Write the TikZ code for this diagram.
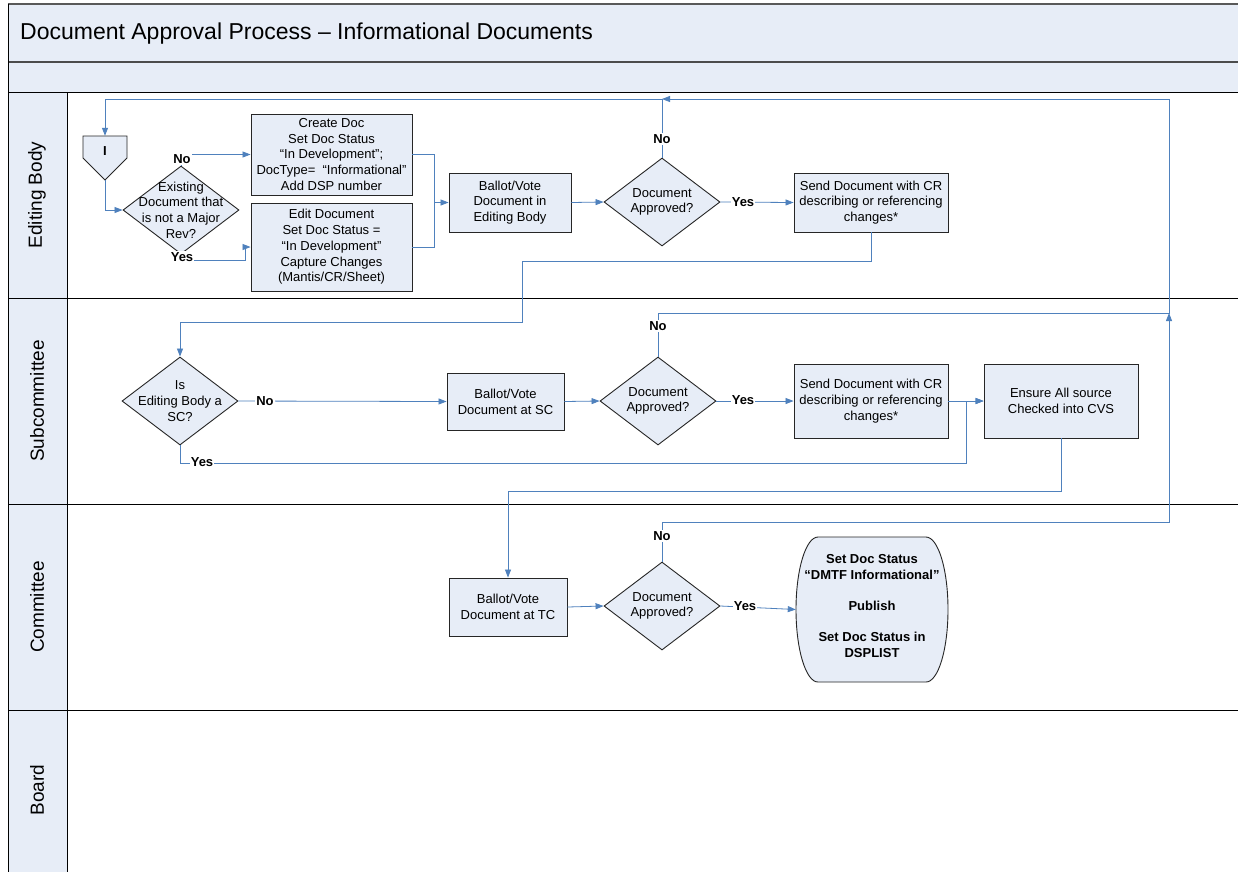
\documentclass[tikz,border=0pt]{standalone}
\usepackage{fontspec}
\setmainfont{Liberation Sans}
\usetikzlibrary{shapes.geometric,arrows.meta,calc}
\definecolor{lfill}{RGB}{231,237,247}
\definecolor{cblue}{RGB}{79,129,189}
\begin{document}
\begin{tikzpicture}[x=1pt,y=-1pt,
  box/.style={rectangle, draw=black!85, fill=lfill, line width=0.9pt, inner sep=0pt, align=center, font=\fontsize{13}{15.7}\selectfont},
  dec/.style={diamond, draw=black!85, fill=lfill, line width=0.9pt, inner sep=0pt, minimum width=116pt, minimum height=88pt},
  dtxt/.style={align=center, inner sep=0pt, font=\fontsize{13}{15.7}\selectfont},
  conn/.style={draw=cblue, line width=0.8pt},
  arr/.style={conn, -{Triangle[length=8pt,width=6pt]}},
  lbl/.style={fill=white, inner sep=1pt, font=\bfseries\fontsize{13}{15}\selectfont},
  lanetxt/.style={font=\fontsize{19}{22}\selectfont, rotate=90, inner sep=0pt},
  frameline/.style={draw=black, line width=1pt}]
\useasboundingbox (0,0) rectangle (1238,871);
\clip (0,0) rectangle (1238,871);
% background bands and lanes
\fill[white] (0,0) rectangle (1238,871);
\fill[lfill] (8,4) rectangle (1250,92);
\fill[lfill] (8,92) rectangle (67,880);
\draw[draw=black!65, line width=1.2pt] (8,4) -- (1250,4);
\draw[draw=black!70, line width=1.2pt] (8,62) -- (1250,62);
\draw[frameline] (8,92) -- (1250,92);
\draw[frameline] (8,298) -- (1250,298);
\draw[frameline] (8,504) -- (1250,504);
\draw[frameline] (8,710) -- (1250,710);
\draw[frameline] (8,4) -- (8,880);
\draw[frameline] (67,92) -- (67,880);
\node[anchor=west, inner sep=0pt, font=\fontsize{23}{26}\selectfont] (title) at (20,34) {Document Approval Process – Informational Documents};
\node[lanetxt] (laneEB) at (37,195) {Editing Body};
\node[lanetxt] (laneSC) at (37,401) {Subcommittee};
\node[lanetxt] (laneTC) at (37,607) {Committee};
\node[lanetxt] (laneBD) at (37,790) {Board};

% ---------- nodes ----------
% off-page reference
\node[minimum width=44pt, minimum height=44pt, inner sep=0pt] (offpg) at (105,158) {};
\draw[draw=black!85, fill=lfill, line width=0.9pt] (83,136) -- (127,136) -- (127,158) -- (105,180) -- (83,158) -- cycle;
\node[inner sep=0pt, font=\bfseries\fontsize{13}{15}\selectfont] (offpgtxt) at (105,151) {I};

\node[dec] (d1) at (181,210) {};
\node[dtxt] (d1t) at (d1) {Existing\\Document that\\is not a Major\\Rev?};
\node[box, minimum width=161pt, minimum height=81pt] (create) at (331.5,154.5) {Create Doc\\Set Doc Status\\“In Development”;\\DocType=\ \ “Informational”\\Add DSP number};
\node[box, minimum width=161pt, minimum height=88pt] (edit) at (331.5,247) {Edit Document\\Set Doc Status =\\“In Development”\\Capture Changes\\(Mantis/CR/Sheet)};
\node[box, minimum width=122pt, minimum height=59pt] (ballot1) at (510,202.5) {Ballot/Vote\\Document in\\Editing Body};
\node[dec] (dA1) at (662,202) {};
\node[dtxt] (dA1t) at (dA1) {Document\\Approved?};
\node[box, minimum width=154pt, minimum height=59pt] (send1) at (871,202.5) {Send Document with CR\\describing or referencing\\changes*};

\node[dec] (dSC) at (180,401) {};
\node[dtxt] (dSCt) at (dSC) {Is\\Editing Body a\\SC?};
\node[box, minimum width=117pt, minimum height=57pt] (ballot2) at (505.5,401.5) {Ballot/Vote\\Document at SC};
\node[dec] (dA2) at (658,401) {};
\node[dtxt] (dA2t) at (dA2) {Document\\Approved?};
\node[box, minimum width=154pt, minimum height=74pt] (send2) at (871,401) {Send Document with CR\\describing or referencing\\changes*};
\node[box, minimum width=154pt, minimum height=74pt] (ensure) at (1061,401) {Ensure All source\\Checked into CVS};

\node[box, minimum width=118pt, minimum height=58pt] (ballot3) at (508,607) {Ballot/Vote\\Document at TC};
\node[dec] (dA3) at (662,606) {};
\node[dtxt] (dA3t) at (dA3) {Document\\Approved?};
\node[minimum width=152pt, minimum height=145pt, inner sep=0pt] (term) at (872,609.5) {};
\draw[draw=black!85, fill=lfill, line width=0.9pt]
  (818,537) -- (926,537) .. controls (938.15,537) and (948,569.46) .. (948,609.5)
  .. controls (948,649.54) and (938.15,682) .. (926,682) -- (818,682)
  .. controls (805.85,682) and (796,649.54) .. (796,609.5)
  .. controls (796,569.46) and (805.85,537) .. (818,537) -- cycle;
\node[inner sep=0pt, align=center, font=\bfseries\fontsize{13}{15.7}\selectfont] (termt) at (872,606) {Set Doc Status\\“DMTF Informational”\\[15.7pt]Publish\\[15.7pt]Set Doc Status in\\DSPLIST};

% ---------- coordinates ----------
\coordinate (jn) at (1169,313);
\coordinate (topR) at (1169,99);
\coordinate (topM) at (662,99);

% ---------- connectors ----------
\draw[arr] (offpg.south) |- (d1.west);
\draw[arr] (d1.north) |- (create.west);
\draw[arr] (d1.south) |- (245,260) |- (edit.west);
\draw[conn] (create.east) -| (434,247) -- (edit.east);
\draw[arr] (ballot1.west -| 434,0) -- (ballot1.west);
\draw[arr] (ballot1.east) -- (dA1.west);
\draw[arr] (dA1.east) -- (send1.west);
\draw[arr] (dA1.north) -- (topM) -| (offpg.north);
\draw[arr] (send1.south) |- (522,261) -- (522,322) -| (dSC.north);

\draw[arr] (dSC.east) -- (ballot2.west);
\draw[arr] (ballot2.east) -- (dA2.west);
\draw[arr] (dA2.east) -- (send2.west);
\draw[arr] (send2.east) -- (ensure.west);
\draw[arr] (dSC.south) |- (966,463) |- (ensure.west);
\draw[arr] (dA2.north) |- (jn) -- (topR) -- (topM);
\draw[arr] (dA3.north) |- (1169,522) -- (jn);
\draw[arr] (ensure.south) |- (800,491) -| (ballot3.north);
\draw[arr] (ballot3.east) -- (dA3.west);
\draw[arr] (dA3.east) -- (term.west);

% ---------- labels ----------
\node[lbl] (lNo1) at (182,159) {No};
\node[lbl] (lYes1) at (182,257) {Yes};
\node[lbl] (lNo2) at (662,139) {No};
\node[lbl] (lYes2) at (743,202) {Yes};
\node[lbl] (lNo3) at (265,401) {No};
\node[lbl] (lYes3) at (202,462) {Yes};
\node[lbl] (lNo4) at (658,326) {No};
\node[lbl] (lYes4) at (743,400) {Yes};
\node[lbl] (lNo5) at (662,536) {No};
\node[lbl] (lYes5) at (745,606) {Yes};
\end{tikzpicture}
\end{document}
